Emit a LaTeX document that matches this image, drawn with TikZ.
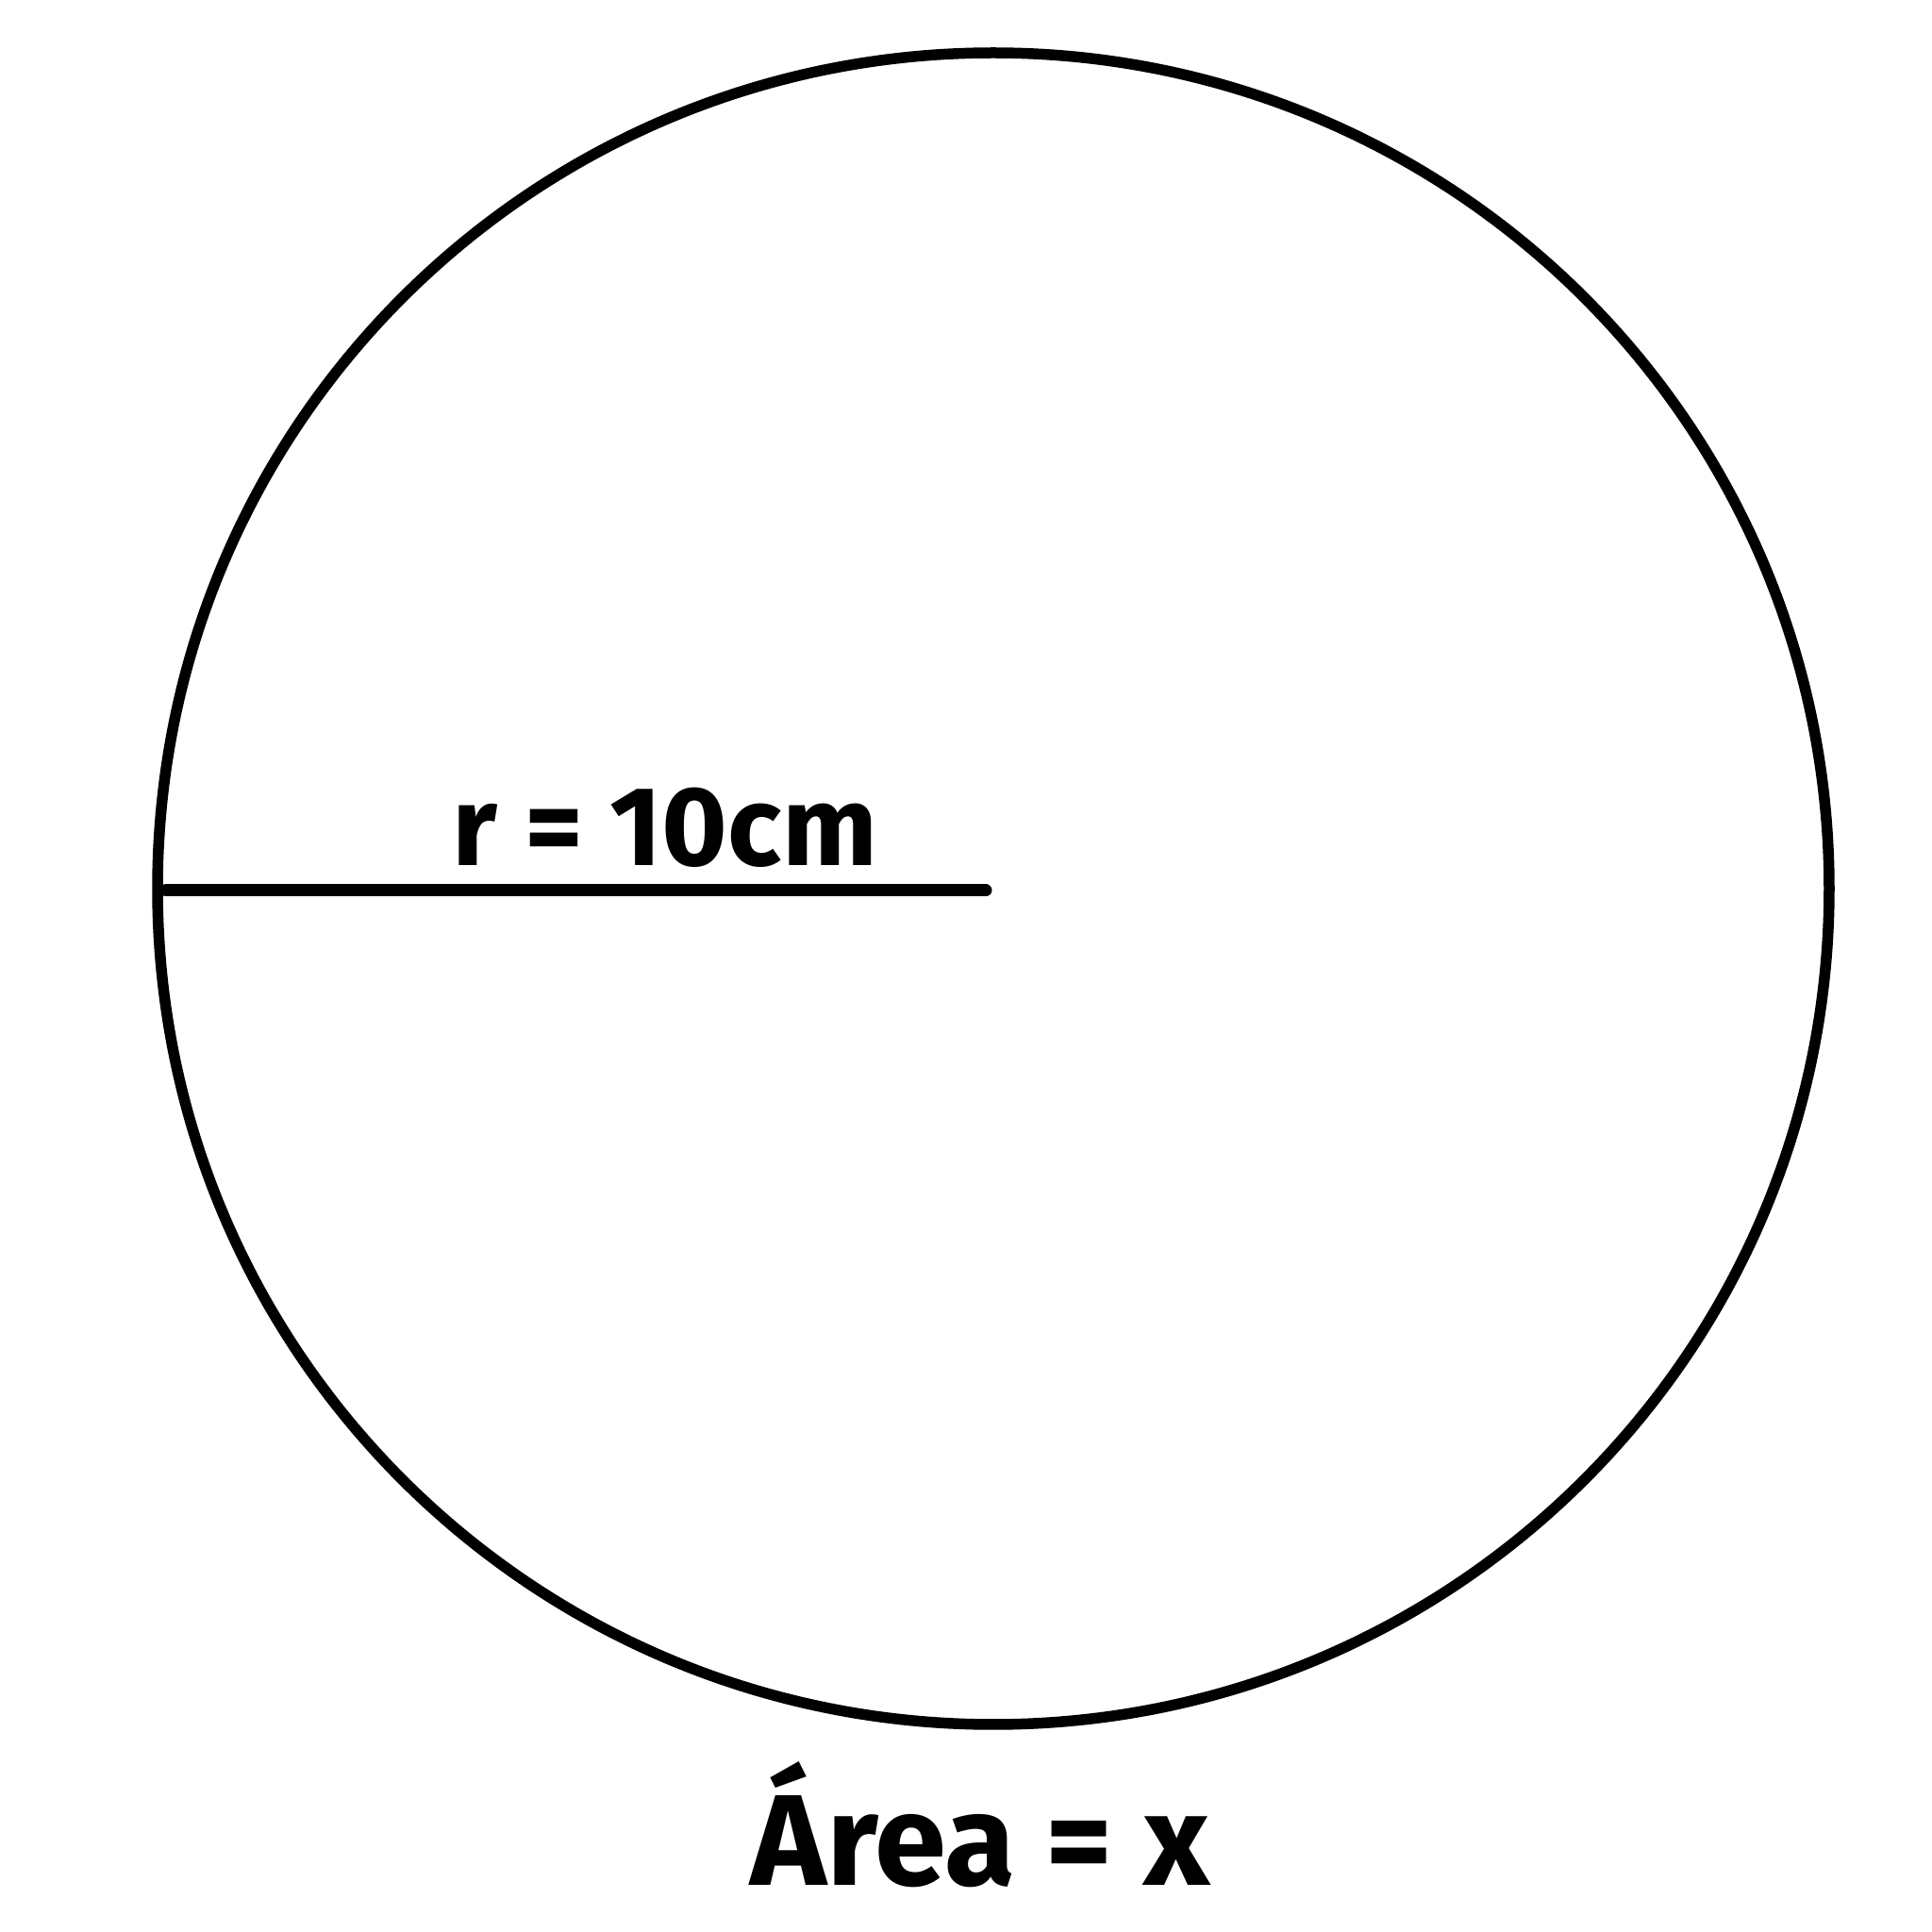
\documentclass[tikz,border=0pt]{standalone}
\usepackage{fontspec}
\setmainfont{Fira Sans}
\begin{document}
\begin{tikzpicture}[
  label/.style={font=\bfseries, inner sep=0pt, anchor=base},
  outline/.style={draw=black, line width=0.115cm},
  radiusline/.style={draw=black, line width=0.13cm, line cap=round}
]
\useasboundingbox (0,0) rectangle (20.48,20.48);
\coordinate (c) at (10.53,11.06);
\draw[outline] (c) circle (8.86);
\coordinate (rs) at (1.76,11.04);
\coordinate (re) at (10.45,11.04);
\draw[radiusline] (rs) -- (re);
\node[label, font=\bfseries\fontsize{34pt}{40pt}\selectfont] (rlab) at (7.05,11.30) {r = 10cm};
\node[label, font=\bfseries\fontsize{39pt}{46pt}\selectfont] (area) at (10.39,0.50) {Área = x};
\end{tikzpicture}
\end{document}
